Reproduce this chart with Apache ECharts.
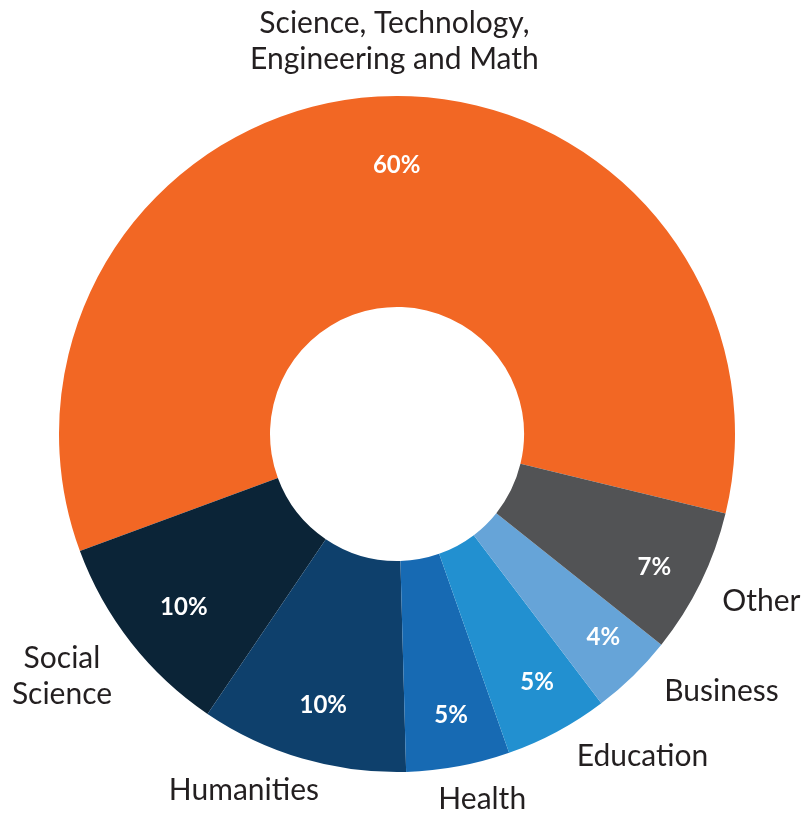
<!DOCTYPE html>
<html>
<head>
<meta charset="utf-8">
<script src="https://cdn.jsdelivr.net/npm/echarts@6/dist/echarts.min.js"></script>
<style>
html,body{margin:0;padding:0;background:#fff;}
#chart{width:805px;height:815px;}
</style>
</head>
<body>
<div id="chart"></div>
<script>
const categories = ['Science, Technology,\nEngineering and Math', 'Social\nScience', 'Humanities', 'Health', 'Education', 'Business', 'Other'];
const values = [60, 10, 10, 5, 5, 4, 7];
const colors = ['#F26724', '#0B2437', '#0E406C', '#176AB3', '#2290D0', '#66A4D8', '#525355'];

const data = categories.map((c, i) => ({ name: c, value: values[i], itemStyle: { color: colors[i] } }));
const dataPct = categories.map((c, i) => ({ name: c, value: values[i] }));

// small label nudges (layout only)
const nameNudge = {
  0: { align: 'center', dx: 24, dy: -22 },
  1: { align: 'center', dx: -38, dy: 13 },
  2: { dx: 31, dy: 0 },
  3: { dx: -31, dy: 0 },
  4: { dx: -1, dy: -4 },
  5: { dx: 3, dy: -8 },
  6: { dx: -13, dy: 4 }
};
const pctNudge = {
  0: { dx: 16, dy: 12 },
  1: { dx: 8, dy: 0 },
  2: { dx: 5, dy: 2 },
  3: { dx: 3, dy: 5 },
  4: { dx: 7, dy: 1 },
  5: { dx: 10, dy: 2 },
  6: { dx: 5, dy: 10 }
};

const chart = echarts.init(document.getElementById('chart'));
chart.setOption({
  animation: false,
  series: [
    {
      type: 'pie',
      center: [397, 434],
      radius: [127, 338],
      startAngle: -13.6,
      clockwise: false,
      avoidLabelOverlap: false,
      silent: true,
      data: data,
      label: {
        position: 'outside',
        formatter: '{b}',
        fontFamily: 'Lato',
        fontSize: 30,
        lineHeight: 36,
        color: '#231F20'
      },
      labelLine: { show: false, length: 33, length2: 0 },
      labelLayout: function (p) {
        return nameNudge[p.dataIndex] || {};
      }
    },
    {
      type: 'pie',
      center: [397, 434],
      radius: [218, 338],
      startAngle: -13.6,
      clockwise: false,
      avoidLabelOverlap: false,
      silent: true,
      data: dataPct,
      itemStyle: { color: 'rgba(0,0,0,0)' },
      label: {
        position: 'inside',
        formatter: '{c}%',
        fontFamily: 'Lato',
        fontWeight: 'bold',
        fontSize: 24,
        color: '#FFFFFF'
      },
      labelLine: { show: false },
      labelLayout: function (p) {
        return pctNudge[p.dataIndex] || {};
      }
    }
  ]
});
</script>
</body>
</html>
